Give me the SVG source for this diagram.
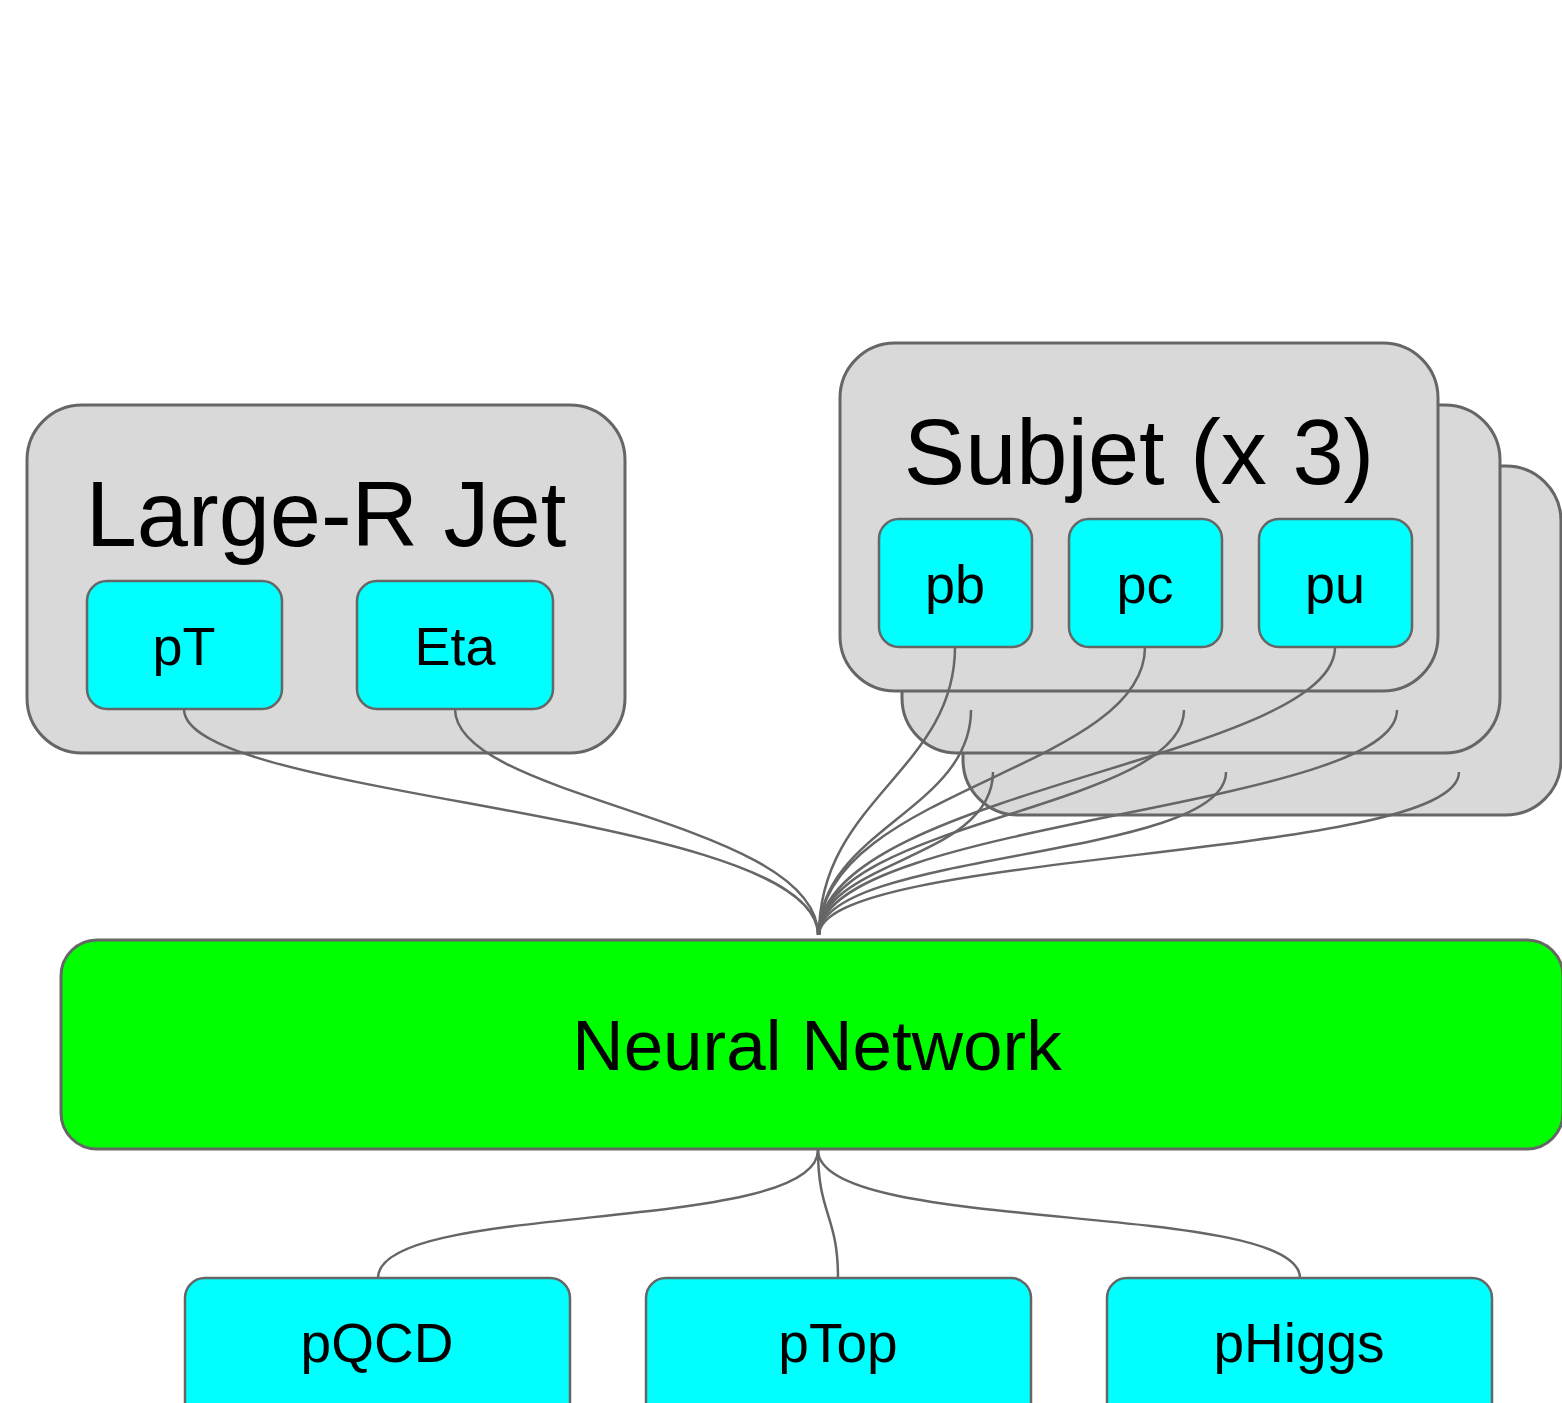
<svg xmlns="http://www.w3.org/2000/svg" width="1562" height="1403" viewBox="0 0 1562 1403">
  <style>
    .group { fill: #d9d9d9; stroke: #666666; stroke-width: 3; }
    .leaf { fill: #00ffff; stroke: #666666; stroke-width: 2.5; }
    .net { fill: #00ff00; stroke: #666666; stroke-width: 3; }
    .edge { fill: none; stroke: #666666; stroke-width: 2.5; }
    text { font-family: "Liberation Sans", Arial, sans-serif; fill: #000000; text-anchor: middle; }
    .title { font-size: 92px; }
    .label { font-size: 54px; }
    .out { font-size: 55px; }
    .nn { font-size: 71px; }
  </style>
  <rect width="1562" height="1403" fill="#ffffff"/>

  <!-- stacked subjet containers (back to front) -->
  <g id="subjet-3">
    <rect class="group" x="963" y="466" width="598" height="349" rx="55"/>
  </g>
  <g id="subjet-2">
    <rect class="group" x="902" y="405" width="598" height="348" rx="55"/>
  </g>
  <g id="subjet-1">
    <rect class="group" x="840" y="343" width="598" height="348" rx="55"/>
    <text class="title" x="1139" y="484">Subjet (x 3)</text>
  </g>
  <g id="pb">
    <rect class="leaf" x="879" y="519" width="153" height="128" rx="20"/>
    <text class="label" x="955" y="603">pb</text>
  </g>
  <g id="pc">
    <rect class="leaf" x="1069" y="519" width="153" height="128" rx="20"/>
    <text class="label" x="1145" y="603">pc</text>
  </g>
  <g id="pu">
    <rect class="leaf" x="1259" y="519" width="153" height="128" rx="20"/>
    <text class="label" x="1335" y="603">pu</text>
  </g>

  <!-- large-R jet container -->
  <g id="large-r-jet">
    <rect class="group" x="27" y="405" width="598" height="348" rx="55"/>
    <text class="title" x="326" y="546">Large-R Jet</text>
  </g>
  <g id="pT">
    <rect class="leaf" x="87" y="581" width="195" height="128" rx="20"/>
    <text class="label" x="184" y="665">pT</text>
  </g>
  <g id="eta">
    <rect class="leaf" x="357" y="581" width="196" height="128" rx="20"/>
    <text class="label" x="455" y="665">Eta</text>
  </g>

  <!-- network -->
  <g id="neural-network">
    <rect class="net" x="61" y="940" width="1502" height="209" rx="36"/>
    <text class="nn" x="817" y="1070">Neural Network</text>
  </g>

  <!-- outputs -->
  <g id="pQCD">
    <rect class="leaf" x="185" y="1278" width="385" height="150" rx="20"/>
    <text class="out" x="377" y="1362">pQCD</text>
  </g>
  <g id="pTop">
    <rect class="leaf" x="646" y="1278" width="385" height="150" rx="20"/>
    <text class="out" x="838" y="1362">pTop</text>
  </g>
  <g id="pHiggs">
    <rect class="leaf" x="1107" y="1278" width="385" height="150" rx="20"/>
    <text class="out" x="1299" y="1362">pHiggs</text>
  </g>

  <!-- connectors -->
  <g id="connectors">
    <!-- jet inputs -->
    <path class="edge" d="M184,709 C184,800 818,810 818,935"/>
    <path class="edge" d="M455,709 C455,800 818,820 818,935"/>
    <!-- front subjet inputs -->
    <path class="edge" d="M955,647 C955,770 819,800 819,935"/>
    <path class="edge" d="M1145,647 C1145,770 819,790 819,935"/>
    <path class="edge" d="M1335,647 C1335,760 819,790 819,935"/>
    <!-- second subjet inputs -->
    <path class="edge" d="M971,710 C971,810 819,830 819,935"/>
    <path class="edge" d="M1184,710 C1184,810 819,820 819,935"/>
    <path class="edge" d="M1397,710 C1397,810 819,820 819,935"/>
    <!-- third subjet inputs -->
    <path class="edge" d="M993,772 C993,860 819,860 819,935"/>
    <path class="edge" d="M1226,772 C1226,860 819,850 819,935"/>
    <path class="edge" d="M1459,772 C1459,860 819,850 819,935"/>
    <!-- outputs -->
    <path class="edge" d="M818,1150 C818,1235 378,1200 378,1278"/>
    <path class="edge" d="M818,1150 C818,1215 838,1215 838,1278"/>
    <path class="edge" d="M818,1150 C818,1235 1300,1200 1300,1278"/>
  </g>
</svg>
